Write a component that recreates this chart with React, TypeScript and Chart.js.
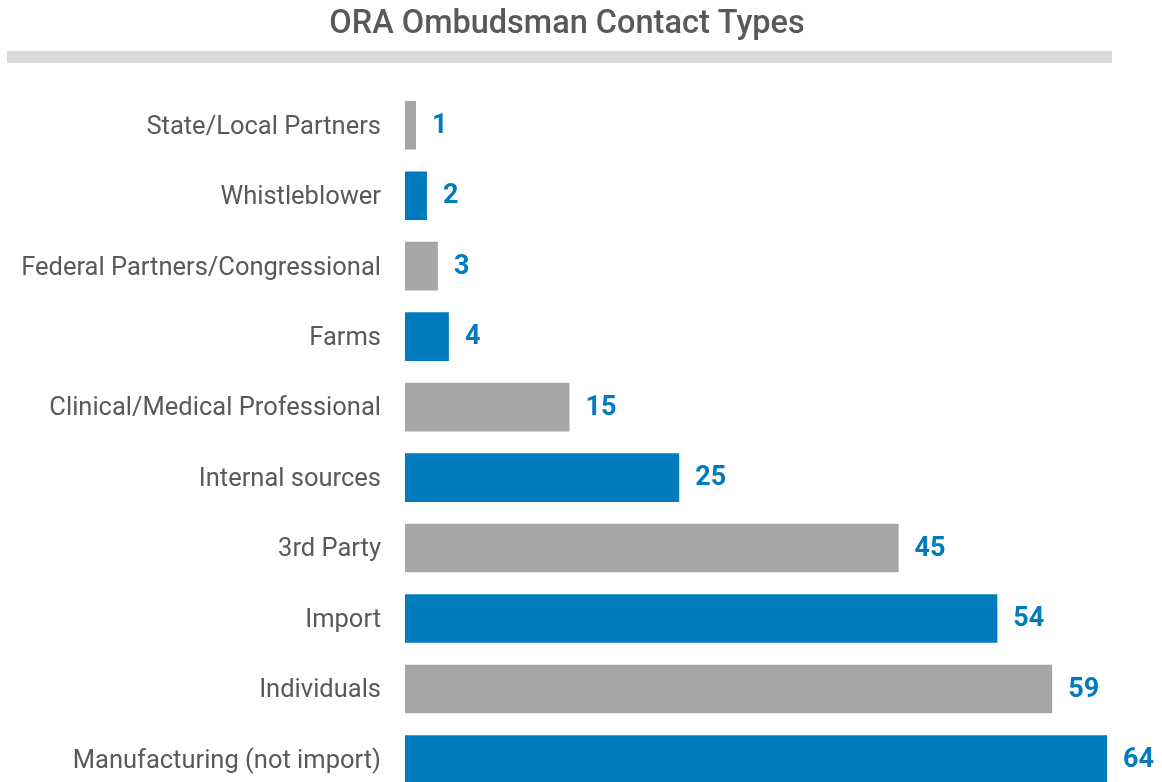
import React, { useEffect, useRef } from "react";
import { Chart, registerables } from "chart.js";

Chart.register(...registerables);

const TITLE = "ORA Ombudsman Contact Types";
const categories = [
  "State/Local Partners",
  "Whistleblower",
  "Federal Partners/Congressional",
  "Farms",
  "Clinical/Medical Professional",
  "Internal sources",
  "3rd Party",
  "Import",
  "Individuals",
  "Manufacturing (not import)",
];
const values = [1, 2, 3, 4, 15, 25, 45, 54, 59, 64];
const GREY = "#A6A6A6";
const BLUE = "#007BBD";
const barColors = categories.map((_, i) => (i % 2 === 0 ? GREY : BLUE));

const W = 1162;
const H = 810;

export default function App() {
  const ref = useRef<HTMLCanvasElement | null>(null);

  useEffect(() => {
    document.body.style.margin = "0";
    document.body.style.overflow = "hidden";
    const canvas = ref.current;
    if (!canvas) return;

    const decorPlugin = {
      id: "decor",
      beforeDraw(chart: any) {
        const ctx = chart.ctx;
        ctx.save();
        ctx.fillStyle = "#D9D9D9";
        ctx.fillRect(7, 51, 1105, 12);
        ctx.fillStyle = "#595959";
        ctx.font = "500 32.5px Roboto";
        ctx.textAlign = "center";
        ctx.textBaseline = "alphabetic";
        ctx.fillText(TITLE, 567, 33);
        ctx.restore();
      },
    };

    const valuePlugin = {
      id: "values",
      afterDatasetsDraw(chart: any) {
        const ctx = chart.ctx;
        const meta = chart.getDatasetMeta(0);
        ctx.save();
        ctx.fillStyle = BLUE;
        ctx.font = "bold 27px Roboto";
        ctx.textAlign = "left";
        ctx.textBaseline = "middle";
        meta.data.forEach((bar: any, i: number) => {
          ctx.fillText(String(values[i]), bar.x + 16, bar.y + 1);
        });
        ctx.restore();
      },
    };

    const chart = new Chart(canvas, {
      type: "bar",
      data: {
        labels: categories,
        datasets: [
          {
            data: values,
            backgroundColor: barColors,
            borderWidth: 0,
            barPercentage: 0.69,
            categoryPercentage: 1,
          },
        ],
      },
      options: {
        indexAxis: "y",
        responsive: false,
        animation: false,
        layout: { padding: { top: 90, bottom: 15, left: 0, right: 55 } },
        plugins: {
          legend: { display: false },
          title: { display: false },
          tooltip: { enabled: false },
        },
        scales: {
          x: {
            display: false,
            min: 0,
            max: 64,
          },
          y: {
            grid: { display: false, drawTicks: true, tickLength: 24 },
            border: { display: false },
            ticks: {
              color: "#595959",
              font: { family: "Roboto", size: 25.5 },
              padding: 0,
              labelOffset: 2,
            },
            afterFit(scale: any) {
              scale.width = 405;
            },
          },
        },
      },
      plugins: [decorPlugin, valuePlugin],
    });

    return () => chart.destroy();
  }, []);

  return (
    <canvas
      ref={ref}
      width={W}
      height={H}
      style={{ display: "block", width: W, height: H }}
    />
  );
}
